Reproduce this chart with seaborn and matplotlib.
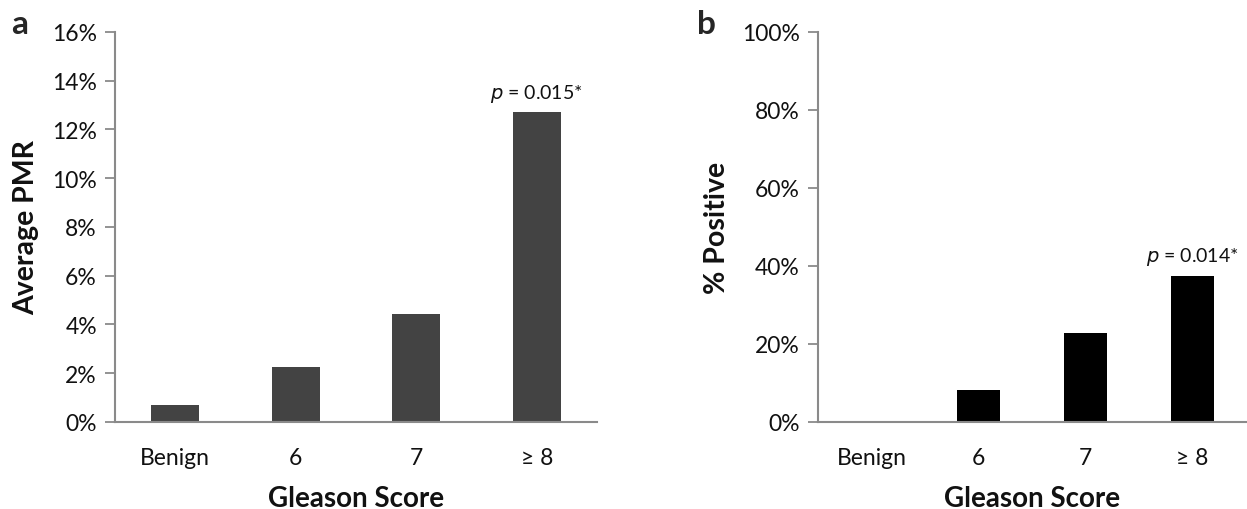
import matplotlib
matplotlib.use("Agg")
import matplotlib.pyplot as plt
from matplotlib.ticker import PercentFormatter, MultipleLocator
import seaborn as sns
import pandas as pd

# Gleason score groups and per-group measurements (percent units)
categories = ["Benign", "6", "7", "\u2265 8"]
average_pmr = [0.71, 2.27, 4.44, 12.72]
percent_positive = [0.0, 8.3, 22.7, 37.5]
p_labels = ["0.015*", "0.014*"]

sns.set_theme(style="white")
plt.rcParams["font.family"] = ["Lato", "DejaVu Sans"]

AXIS_GREY = "#8a8a8a"
TEXT = "#111111"

fig = plt.figure(figsize=(12.47, 5.10), dpi=100)
ax_a = fig.add_axes([0.0922, 0.1706, 0.3866, 0.7647])
ax_b = fig.add_axes([0.6560, 0.1706, 0.3432, 0.7647])

panels = [
    (ax_a, average_pmr, "#434343", "Average PMR", 16, 2, p_labels[0]),
    (ax_b, percent_positive, "#000000", "% Positive", 100, 20, p_labels[1]),
]

for ax, values, colour, ylabel, ymax, step, ptxt in panels:
    df = pd.DataFrame({"group": categories, "value": values})
    sns.barplot(data=df, x="group", y="value", color=colour, width=0.4,
                saturation=1, ax=ax)
    for patch in ax.patches:
        patch.set_edgecolor("none")
    ax.set_xlim(-0.5, 3.5)
    ax.set_ylim(0, ymax)
    ax.yaxis.set_major_locator(MultipleLocator(step))
    ax.yaxis.set_major_formatter(PercentFormatter(xmax=100, decimals=0))
    for side in ("top", "right"):
        ax.spines[side].set_visible(False)
    for side in ("left", "bottom"):
        ax.spines[side].set_color(AXIS_GREY)
        ax.spines[side].set_linewidth(1.5)
    ax.tick_params(axis="y", which="major", direction="out", length=7,
                   width=1.3, color=AXIS_GREY, labelsize=16.5, pad=6,
                   left=True, labelcolor=TEXT)
    ax.tick_params(axis="x", length=0, labelsize=16.5, pad=18,
                   labelcolor=TEXT)
    ax.set_xlabel("Gleason Score", fontsize=20, fontweight="bold",
                  labelpad=12, color=TEXT)
    ax.set_ylabel(ylabel, fontsize=20.5, fontweight="bold", labelpad=9,
                  color=TEXT)
    ax.grid(False)

    # significance note above the highest group
    top = values[-1]
    ax.annotate(r"$\it{p}$ = " + ptxt, xy=(3, top), xytext=(0, 6),
                textcoords="offset points", ha="center", va="bottom",
                fontsize=14, color=TEXT)

fig.text(0.009, 0.952, "a", fontsize=24, fontweight="bold", va="center")
fig.text(0.559, 0.952, "b", fontsize=24, fontweight="bold", va="center")

fig.savefig("out.png", dpi=100, facecolor="white")
